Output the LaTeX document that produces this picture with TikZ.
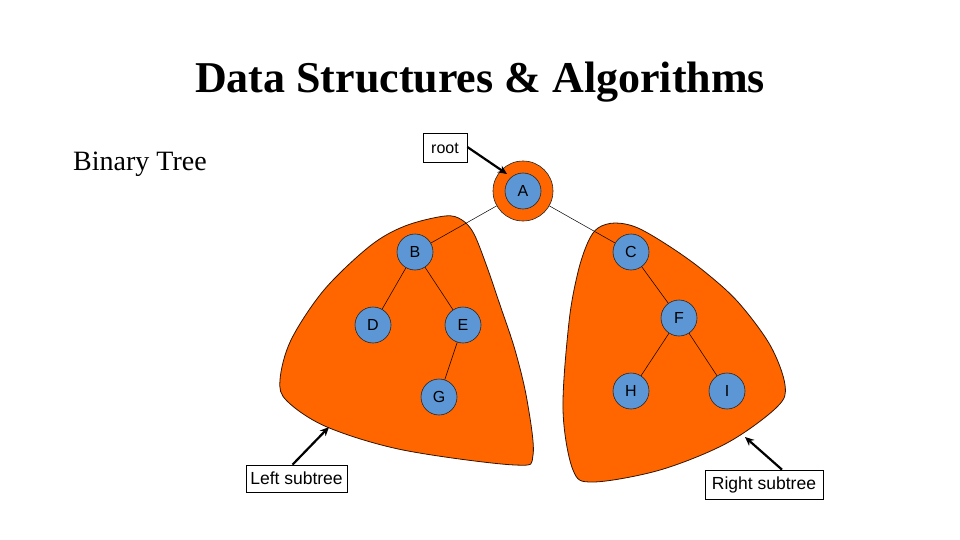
\documentclass[tikz,border=0pt]{standalone}
\usepackage{fontspec}
\setmainfont{Liberation Serif}
\setsansfont{Liberation Sans}
\usetikzlibrary{arrows.meta}
\definecolor{blobor}{HTML}{FF6600}
\definecolor{nodeblue}{RGB}{92,150,212}
\begin{document}
\begin{tikzpicture}[x=1pt,y=-1pt,
  blob/.style={fill=blobor,draw=black!80!blobor,line width=0.8pt},
  tnode/.style={circle,fill=nodeblue,draw=black!85,line width=0.6pt,minimum size=36,inner sep=0pt,font=\sffamily\fontsize{16}{16}\selectfont},
  ring/.style={circle,fill=blobor,draw=black!85,line width=0.6pt,minimum size=60,inner sep=0pt},
  tedge/.style={draw=black,line width=0.5pt},
  lbl/.style={draw=black,line width=0.7pt,fill=white,inner sep=0pt,font=\sffamily\fontsize{17.5}{17.5}\selectfont},
  ptr/.style={draw=black,line width=2.2pt,-{Stealth[length=9pt,width=8pt]}}]
\useasboundingbox (0,0) rectangle (960,540);
% title and caption
\node[font=\bfseries\fontsize{44}{44}\selectfont] (title) at (480,82) {Data Structures \& Algorithms};
\node[font=\fontsize{28}{28}\selectfont] (bt) at (140,164) {Binary Tree};
% subtrees
\draw[blob] plot[smooth cycle,tension=0.55] coordinates {
  (445,216) (462,220) (474,234) (487,267) (500,305) (515,350) (527,400) (533,455)
  (515,465) (403,450) (327,427) (287,401) (280,380) (291,340) (324,290) (370,246) (405,226)};
\draw[blob] plot[smooth cycle,tension=0.55] coordinates {
  (598,228) (615,223) (638,228) (672,248) (705,272) (738,302) (770,345) (785,385) (777,407)
  (727,443) (660,470) (593,482) (573,470) (563,410) (569,322) (578,272) (588,242)};
% nodes
\node[ring] (Ar) at (523,191) {};
\node[tnode] (A) at (523,191) {A};
\node[tnode] (B) at (415,252) {B};
\node[tnode] (C) at (631,252) {C};
\node[tnode] (D) at (373,325) {D};
\node[tnode] (E) at (463,325) {E};
\node[tnode] (F) at (679,318) {F};
\node[tnode] (G) at (439,397) {G};
\node[tnode] (H) at (631,391) {H};
\node[tnode] (I) at (727,391) {I};
% edges
\draw[tedge] (Ar) -- (B);
\draw[tedge] (Ar) -- (C);
\draw[tedge] (B) -- (D);
\draw[tedge] (B) -- (E);
\draw[tedge] (E) -- (G);
\draw[tedge] (C) -- (F);
\draw[tedge] (F) -- (H);
\draw[tedge] (F) -- (I);
% labels
\node[lbl,minimum width=44,minimum height=29,font=\sffamily\fontsize{16}{16}\selectfont] (root) at (445,148) {root};
\node[lbl,minimum width=101,minimum height=27] (lsub) at (296.5,478.5) {Left subtree};
\node[lbl,minimum width=118,minimum height=29] (rsub) at (764,484.5) {Right subtree};
\coordinate (rootTip) at (507,174);
\coordinate (lTip) at (329,427);
\coordinate (rTip) at (745,437);
\draw[ptr] ([yshift=1]root.east) -- (rootTip);
\draw[ptr] ([xshift=-4]lsub.north) -- (lTip);
\draw[ptr] ([xshift=18]rsub.north) -- (rTip);
\end{tikzpicture}
\end{document}
